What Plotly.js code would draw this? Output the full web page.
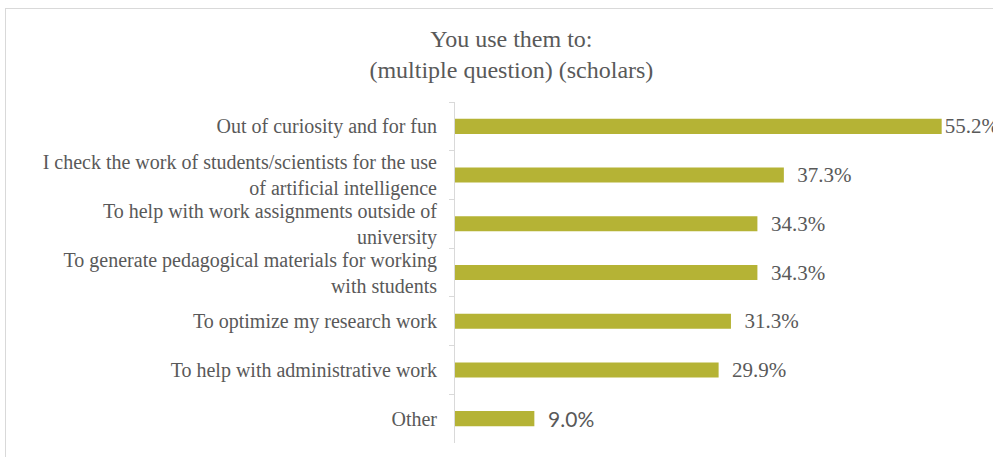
<!DOCTYPE html>
<html>
<head>
<meta charset="utf-8">
<script src="https://cdn.plot.ly/plotly-3.0.1.min.js"></script>
<style>
  html, body { margin: 0; padding: 0; background: #fff; }
  #chart { width: 993px; height: 457px; position: absolute; left: 0; top: 0; }
  #frame { position: absolute; left: 5px; top: 8px; width: 1000px; height: 460px;
           border-left: 1px solid #d9d9d9; border-top: 1px solid #d9d9d9; pointer-events: none; }
</style>
</head>
<body>
<div id="chart"></div>
<div id="frame"></div>
<script>
const categories = [
  "Out of curiosity and for fun",
  "I check the work of students/scientists for the use<br>of artificial intelligence",
  "To help with work assignments outside of<br>university",
  "To generate pedagogical materials for working<br>with students",
  "To optimize my research work",
  "To help with administrative work",
  "Other"
];
const values = [55.2, 37.3, 34.3, 34.3, 31.3, 29.9, 9.0];
const labels = values.map((v, i) => (i === 0 ? "" : "\u00a0\u00a0") + v.toFixed(1) + "%");
const SERIF = "Liberation Serif";
const SANS = "Lato";
const labelFonts = values.map((v, i) => i === values.length - 1 ? SANS : SERIF);

const trace = {
  type: "bar",
  orientation: "h",
  y: categories,
  x: values,
  text: labels,
  textposition: "outside",
  constraintext: "none",
  cliponaxis: false,
  textfont: { family: labelFonts, size: 21, color: "#595959" },
  marker: { color: "#b5b335" },
  width: 0.31,
  hoverinfo: "none"
};

const layout = {
  width: 993,
  height: 457,
  margin: { l: 455, r: 9, t: 102, b: 14 },
  paper_bgcolor: "rgba(0,0,0,0)",
  plot_bgcolor: "rgba(0,0,0,0)",
  font: { family: SERIF, color: "#595959" },
  title: {
    text: "You use them to:<br>(multiple question) (scholars)",
    xref: "container", x: 0.515, xanchor: "center",
    yref: "container", y: 0.897, yanchor: "top",
    font: { size: 24, color: "#595959", family: SERIF }
  },
  showlegend: false,
  xaxis: {
    range: [0, 60],
    visible: false,
    fixedrange: true
  },
  yaxis: {
    autorange: "reversed",
    showline: true,
    linecolor: "#d9d9d9",
    linewidth: 1,
    ticks: "outside",
    tickson: "boundaries",
    ticklen: 5,
    tickcolor: "#d9d9d9",
    showgrid: false,
    tickfont: { size: 20, color: "#595959", family: SERIF },
    ticklabelstandoff: 13,
    fixedrange: true
  }
};

Plotly.newPlot("chart", [trace], layout, { displayModeBar: false, staticPlot: true });
</script>
</body>
</html>
